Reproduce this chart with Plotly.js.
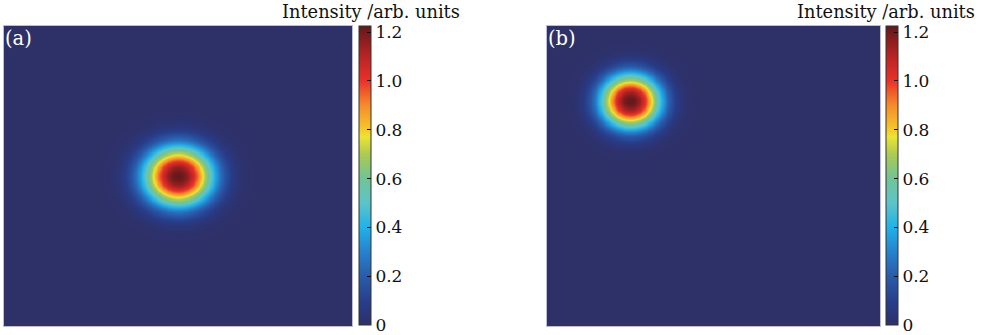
<!DOCTYPE html>
<html>
<head>
<meta charset="utf-8">
<script src="https://cdn.plot.ly/plotly-3.0.1.min.js"></script>
<style>html,body{margin:0;padding:0;background:#fff;}#chart{width:984px;height:335px;}</style>
</head>
<body>
<div id="chart"></div>
<script>
// ---- data ----
const panelLabels = ["(a)", "(b)"];
const spotCenterX = [0.0, -0.5];      // spot centre, x (data units, field -1..1)
const spotCenterY = [0.0, 0.5];       // spot centre, y
const spotPeak    = [1.22, 1.22];     // peak intensity
const spotWidth   = [0.20, 0.18];     // 1/e radius
const spotOrder   = [2.3, 2.3];       // profile exponent
const gridN = 141;                    // samples per side
const cbTickVals = [0, 0.2, 0.4, 0.6, 0.8, 1.0, 1.2];
const cbTickText = ["0", "0.2", "0.4", "0.6", "0.8", "1.0", "1.2"];
const cbTitle = "Intensity /arb. units";
const zMin = 0, zMax = 1.225;

// ---- build grids ----
const axisVals = [];
for (let i = 0; i < gridN; i++) axisVals.push(-1 + 2 * i / (gridN - 1));

function field(k) {
  const z = [];
  for (let j = 0; j < gridN; j++) {
    const row = [];
    for (let i = 0; i < gridN; i++) {
      const dx = axisVals[i] - spotCenterX[k];
      const dy = axisVals[j] - spotCenterY[k];
      const r = Math.sqrt(dx * dx + dy * dy) / spotWidth[k];
      row.push(spotPeak[k] * Math.exp(-Math.pow(r, spotOrder[k])));
    }
    z.push(row);
  }
  return z;
}

const jet = [
  [0.000, "rgb(46,48,104)"],
  [0.070, "rgb(40,60,136)"],
  [0.163, "rgb(40,92,170)"],
  [0.245, "rgb(38,130,205)"],
  [0.327, "rgb(32,178,232)"],
  [0.408, "rgb(92,196,200)"],
  [0.490, "rgb(112,196,150)"],
  [0.571, "rgb(172,202,82)"],
  [0.630, "rgb(236,228,50)"],
  [0.660, "rgb(244,196,40)"],
  [0.735, "rgb(245,140,42)"],
  [0.816, "rgb(234,50,40)"],
  [0.898, "rgb(184,36,36)"],
  [1.000, "rgb(98,24,26)"]
];

const W = 984, H = 335;
const px = v => v / W;
const py = v => 1 - v / H;

const plotX = [[4, 352], [547, 880]];
const cbX = [359, 886];
const plotTop = 26, plotBottom = 326;

const traces = [0, 1].map(k => ({
  type: "heatmap",
  x: axisVals, y: axisVals, z: field(k),
  xaxis: k === 0 ? "x" : "x2",
  yaxis: k === 0 ? "y" : "y2",
  colorscale: jet, zmin: zMin, zmax: zMax,
  zsmooth: "best",
  hoverinfo: "skip",
  showscale: true,
  colorbar: {
    x: px(cbX[k]), xanchor: "left", xpad: 0, ypad: 0,
    y: py(plotBottom - 1), yanchor: "bottom",
    len: (plotBottom - 1 - plotTop) / H, lenmode: "fraction",
    thickness: 12, thicknessmode: "pixels",
    outlinewidth: 1, outlinecolor: "#333",
    ticks: "inside", ticklen: 4, tickwidth: 1, tickcolor: "#000",
    tickvals: cbTickVals, ticktext: cbTickText,
    tickfont: {family: "DejaVu Serif", size: 17, color: "#111"},
    ticklabelposition: "outside"
  }
}));

const axBase = {showgrid: false, zeroline: false, showticklabels: false, ticks: "",
  showline: true, linecolor: "rgba(160,160,200,0.7)", linewidth: 1, mirror: true,
  range: [-1, 1], fixedrange: true};

const layout = {
  width: W, height: H,
  margin: {l: 0, r: 0, t: 0, b: 0},
  paper_bgcolor: "#fff", plot_bgcolor: "#fff",
  showlegend: false,
  xaxis: Object.assign({}, axBase, {domain: [px(plotX[0][0]), px(plotX[0][1])], anchor: "y"}),
  yaxis: Object.assign({}, axBase, {domain: [py(plotBottom), py(plotTop)], anchor: "x"}),
  xaxis2: Object.assign({}, axBase, {domain: [px(plotX[1][0]), px(plotX[1][1])], anchor: "y2"}),
  yaxis2: Object.assign({}, axBase, {domain: [py(plotBottom), py(plotTop)], anchor: "x2"}),
  annotations: [
    {text: cbTitle, xref: "paper", yref: "paper", x: px(280), y: py(11), xanchor: "left", yanchor: "middle",
     showarrow: false, font: {family: "DejaVu Serif", size: 17.8, color: "#111"}},
    {text: cbTitle, xref: "paper", yref: "paper", x: px(795), y: py(11), xanchor: "left", yanchor: "middle",
     showarrow: false, font: {family: "DejaVu Serif", size: 17.8, color: "#111"}},
    {text: panelLabels[0], xref: "paper", yref: "paper", x: px(3), y: py(38), xanchor: "left", yanchor: "middle",
     showarrow: false, font: {family: "DejaVu Serif", size: 19.5, color: "#fff"}},
    {text: panelLabels[1], xref: "paper", yref: "paper", x: px(546), y: py(38), xanchor: "left", yanchor: "middle",
     showarrow: false, font: {family: "DejaVu Serif", size: 19.5, color: "#fff"}}
  ]
};

Plotly.newPlot("chart", traces, layout, {displayModeBar: false, staticPlot: true});
</script>
</body>
</html>
